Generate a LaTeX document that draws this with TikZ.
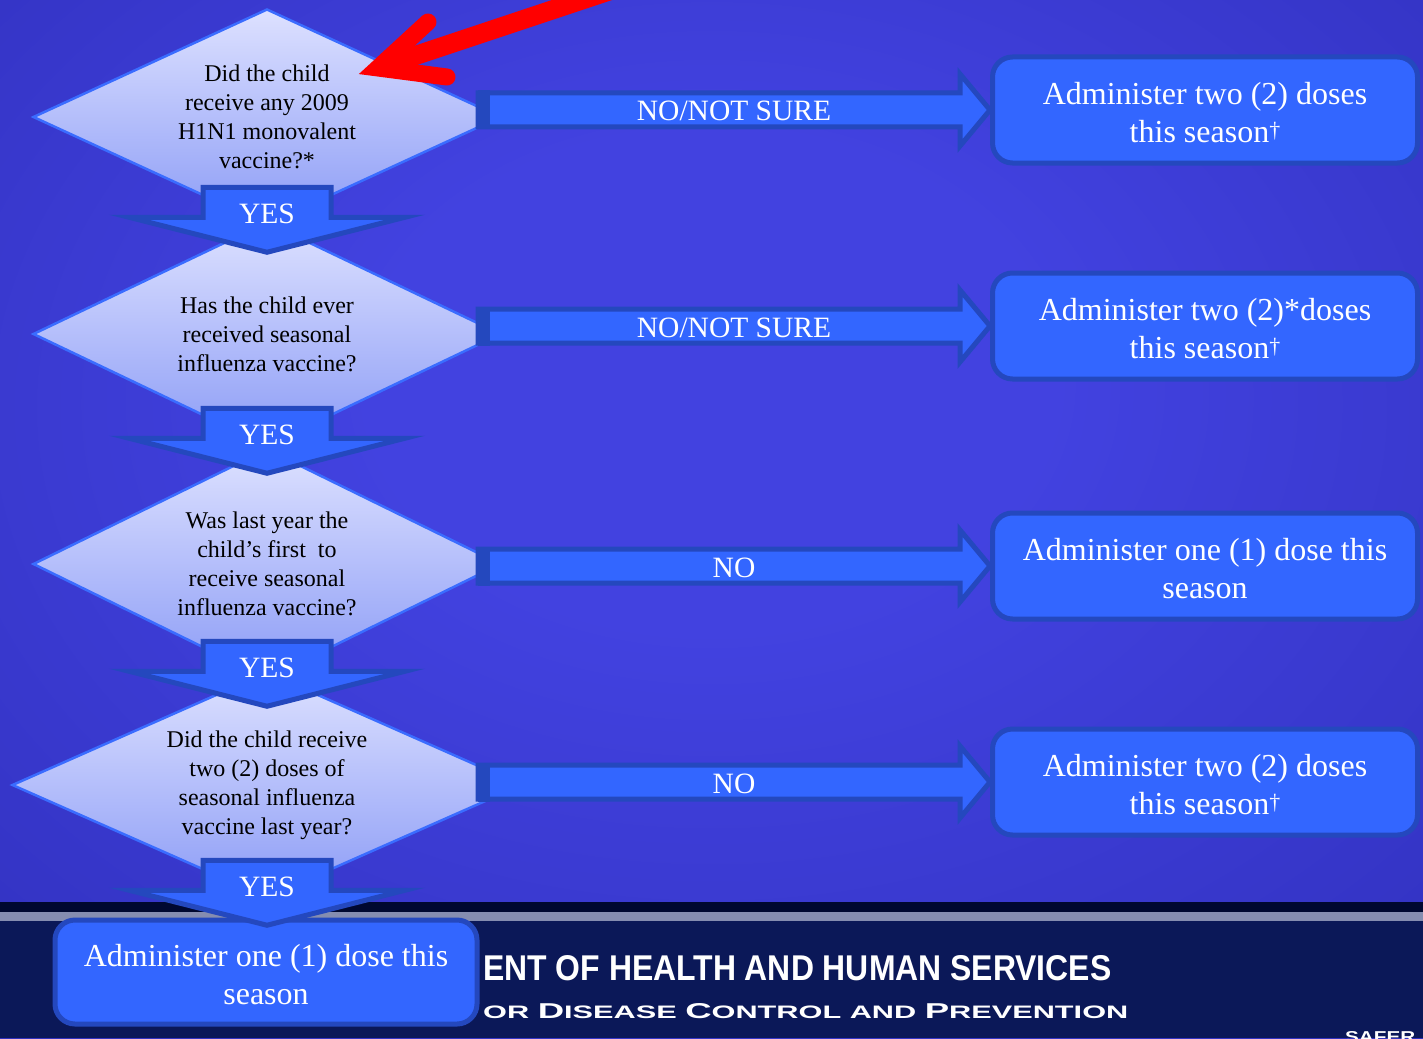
\documentclass[tikz,border=0pt]{standalone}
\usepackage{fontspec}
\usepackage{graphicx}
\setmainfont{Liberation Serif}
\setsansfont{Liberation Sans}
\usetikzlibrary{shapes.geometric,calc}
\definecolor{bgin}{HTML}{4242E0}
\definecolor{bgout}{HTML}{2222A2}
\definecolor{qtop}{HTML}{DDE1FF}
\definecolor{qbot}{HTML}{8C9CF6}
\definecolor{qedge}{HTML}{3A6CFF}
\definecolor{barfill}{HTML}{3366FF}
\definecolor{baredge}{HTML}{2448BE}
\definecolor{navy}{HTML}{0B1858}
\definecolor{inkdark}{HTML}{000830}
\definecolor{rulegray}{HTML}{858DB0}
\pgfdeclareradialshading{slideglow}{\pgfpoint{0bp}{8bp}}{color(0bp)=(bgin); color(12bp)=(bgin); color(62bp)=(bgout); color(72bp)=(bgout)}
\newcommand{\seasonmark}{\raisebox{5pt}{\fontsize{22}{26}\selectfont\textdagger}}
\begin{document}
\begin{tikzpicture}[x=1pt,y=-1pt,
  question/.style={diamond, draw=qedge, line width=2.5pt, top color=qtop, bottom color=qbot, inner sep=0pt},
  asklabel/.style={align=center, text=black, inner sep=0pt, font=\fontsize{24}{29}\selectfont},
  answer/.style={rectangle, rounded corners=20pt, draw=baredge, line width=5pt, fill=barfill, text=white,
    minimum width=425pt, minimum height=106pt, align=center, font=\fontsize{32}{38}\selectfont},
  blockarrow/.style={draw=baredge, line width=5pt, fill=barfill, line join=miter},
  barlabel/.style={text=white, inner sep=0pt, font=\fontsize{29.5}{35}\selectfont}]
  \useasboundingbox (0,0) rectangle (1423,1038);
  \shade[shading=slideglow] (0,0) rectangle (1423,1038);
  \fill[inkdark] (0,902) rectangle (1423,1038);
  \fill[rulegray] (0,912) rectangle (1423,921);
  \fill[navy] (0,921) rectangle (1423,1038);
  \node[anchor=base west, inner sep=0pt, text=white] (dept) at (483,980)
    {\resizebox{628pt}{25pt}{\sffamily\bfseries ENT OF HEALTH AND HUMAN SERVICES}};
  \node[anchor=base west, inner sep=0pt, text=white] (cdc) at (483,1018)
    {\resizebox{645pt}{15pt}{\sffamily\bfseries\fontsize{8.4}{10}\selectfont OR {\fontsize{10}{12}\selectfont D}ISEASE {\fontsize{10}{12}\selectfont C}ONTROL AND {\fontsize{10}{12}\selectfont P}REVENTION}};
  \node[anchor=north west, inner sep=0pt, text=white] (safer) at (1345,1031)
    {\resizebox{70pt}{11pt}{\sffamily\bfseries SAFER}};

  \node[question, minimum width=468pt, minimum height=216pt,
    label={[name=q1t, asklabel]center:{Did the child\\receive any 2009\\H1N1 monovalent\\vaccine?*}}] (q1) at (267,117) {};
  \node[question, minimum width=468pt, minimum height=224pt,
    label={[name=q2t, asklabel]center:{Has the child ever\\received seasonal\\influenza vaccine?}}] (q2) at (267,334) {};
  \node[question, minimum width=468pt, minimum height=230pt,
    label={[name=q3t, asklabel]center:{Was last year the\\child’s first\ \ to\\receive seasonal\\influenza vaccine?}}] (q3) at (267,564) {};
  \node[question, minimum width=510pt, minimum height=226pt,
    label={[name=q4t, asklabel]center:{Did the child receive\\two (2) doses of\\seasonal influenza\\vaccine last year?}}] (q4) at (267,785) {};

  \node[answer] (r1) at (1205,110) {\strut Administer two (2) doses\\this season\seasonmark};
  \node[answer] (r2) at (1205,326) {\strut Administer two (2)*doses\\this season\seasonmark};
  \node[answer] (r3) at (1205,566) {\strut Administer one (1) dose this\\season};
  \node[answer] (r4) at (1205,782) {\strut Administer two (2) doses\\this season\seasonmark};
  \node[answer, minimum width=422pt, minimum height=104pt] (r5) at (266,972) {\strut Administer one (1) dose this\\season};

  \foreach \q/\r/\lbl in {q1/r1/NO\slash NOT SURE, q2/r2/NO\slash NOT SURE, q3/r3/NO, q4/r4/NO} {
    \coordinate (s) at ($(\q.center |- \r.west)+(211,0)$);
    \coordinate (t) at (\r.west);
    \draw[blockarrow] ($(s)+(0,-17)$) -- ($(t)+(-30,-17)$) -- ($(t)+(-30,-36)$) -- (t)
      -- ($(t)+(-30,36)$) -- ($(t)+(-30,17)$) -- ($(s)+(0,17)$) -- cycle;
    \fill[baredge] ($(s)+(0,-19.5)$) rectangle ($(s)+(12,19.5)$);
    \node[barlabel, anchor=base] (n\q) at ($(s)!0.5!(t)+(0,11)$) {\lbl};
  }
  \foreach \a/\b in {q1/q2, q2/q3, q3/q4, q4/r5} {
    \coordinate (u) at ($(\a.south)+(0,26)$);
    \draw[blockarrow] ($(u)+(-64,-65)$) -- ($(u)+(64,-65)$) -- ($(u)+(64,-35)$) -- ($(u)+(138,-35)$)
      -- (u) -- ($(u)+(-138,-35)$) -- ($(u)+(-64,-35)$) -- cycle;
    \node[barlabel] (y\a) at ($(u)+(0,-38)$) {YES};
  }

  \coordinate (hint) at (378,68);
  \draw[red, line width=17pt, line cap=round, line join=miter] (428,22) -- (hint) -- (447,77);
  \draw[red, line width=19pt] ($(hint)+(6,-2)$) -- (615,-11);
\end{tikzpicture}
\end{document}
